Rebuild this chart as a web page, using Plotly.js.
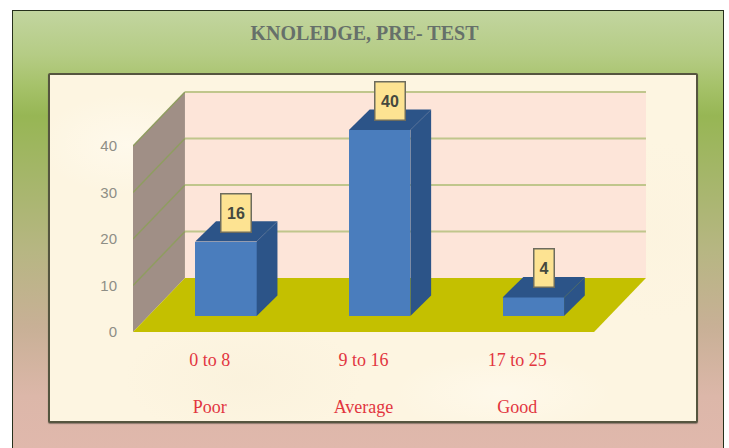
<!DOCTYPE html>
<html>
<head>
<meta charset="utf-8">
<script src="https://cdn.plot.ly/plotly-3.0.1.min.js"></script>
<style>
html,body{margin:0;padding:0;background:#fff;width:729px;height:448px;overflow:hidden}
#frame{position:absolute;left:12px;top:10px;width:712px;height:440px;border:1.5px solid #26301c;box-sizing:border-box;
background:linear-gradient(180deg,#c2d59f 0%,#b5cc85 10%,#a6c26a 17%,#97b654 24%,#a5b66a 38%,#b7b683 55%,#c8b096 72%,#dcb7a9 88%,#e0b8ac 100%)}
#panel{position:absolute;left:48px;top:73px;width:650px;height:350px;box-sizing:border-box;border:2.5px solid #55553f;border-radius:2px;
box-shadow:0 1px 1px rgba(60,60,50,.5);
background:
radial-gradient(ellipse 90px 50px at 12% 20%,rgba(255,250,238,.8),transparent),
radial-gradient(ellipse 120px 60px at 30% 88%,rgba(249,240,218,.6),transparent),
radial-gradient(ellipse 80px 90px at 94% 45%,rgba(252,243,222,.7),transparent),
radial-gradient(ellipse 110px 40px at 70% 92%,rgba(255,250,238,.7),transparent),
#fdf5e1}
#chart{position:absolute;left:0;top:0;width:729px;height:448px}
</style>
</head>
<body>
<div id="frame"></div>
<div id="panel"></div>
<div id="chart"></div>
<script>
const scoreRanges = ["0 to 8", "9 to 16", "17 to 25"];
const gradeNames = ["Poor", "Average", "Good"];
const students = [16, 40, 4];
const axisTicks = [0, 10, 20, 30, 40];
const chartTitle = "KNOLEDGE, PRE- TEST";

// Oblique 3-D projection, expressed in axis units
const wallDX = 0.338, wallDY = 11.6;      // depth of the whole box
const barDX = 0.105, barDY = 3.44;        // inset of the bars' front plane
const depthDX = 0.135, depthDY = 4.4;     // depth of a bar
const barWidth = 0.4;
const xMin = -0.5, xMax = 3.17, xFront = 2.5, yMax = 55.48, yTop = 40;

function poly(pts){ return "M" + pts.map(p => p[0] + "," + p[1]).join("L") + "Z"; }
function shape(pts, fill){
  return {type:"path", xref:"x", yref:"y", layer:"below", path:poly(pts), fillcolor:fill, line:{width:0}};
}
const shapes = [
  shape([[xMin+wallDX,wallDY],[xFront+wallDX,wallDY],[xFront+wallDX,yTop+wallDY],[xMin+wallDX,yTop+wallDY]], "#fde5d9"),
  shape([[xMin,0],[xMin+wallDX,wallDY],[xMin+wallDX,yTop+wallDY],[xMin,yTop]], "#a08f86"),
  shape([[xMin,0],[xFront,0],[xFront+wallDX,wallDY],[xMin+wallDX,wallDY]], "#c4c000")
];
axisTicks.filter(t => t > 0).forEach(t => {
  shapes.push({type:"line", xref:"x", yref:"y", layer:"below", x0:xMin, y0:t, x1:xMin+wallDX, y1:t+wallDY, line:{color:"#8f9d60", width:1.5}});
  shapes.push({type:"line", xref:"x", yref:"y", layer:"below", x0:xMin+wallDX, y0:t+wallDY, x1:xFront+wallDX, y1:t+wallDY, line:{color:"#c0c68c", width:2}});
});

const idx = students.map((_, i) => i);
const traces = [{
  type:"bar", x:idx.map(i => i + barDX), y:students, base:students.map(() => barDY), width:barWidth,
  marker:{color:"#4a7dbd", line:{width:0}}, hoverinfo:"skip", showlegend:false
}];
students.forEach((v, i) => {
  const l = i + barDX - barWidth/2, r = i + barDX + barWidth/2, b = barDY, t = barDY + v;
  const side = [[r,b],[r+depthDX,b+depthDY],[r+depthDX,t+depthDY],[r,t],[r,b]];
  const top  = [[l,t],[r,t],[r+depthDX,t+depthDY],[l+depthDX,t+depthDY],[l,t]];
  [side, top].forEach(p => traces.push({
    type:"scatter", mode:"lines", x:p.map(q => q[0]), y:p.map(q => q[1]),
    fill:"toself", fillcolor:"#2c5488", line:{width:0, color:"#2c5488"}, hoverinfo:"skip", showlegend:false
  }));
});

const annotations = students.map((v, i) => ({
  x:i + 0.172, y:v + barDY, xref:"x", yref:"y", xanchor:"center", yanchor:"bottom", yshift:9,
  text:"<b>" + v + "</b>", showarrow:false, width:String(v).length > 1 ? 29 : 19, height:37, align:"center", valign:"middle",
  bgcolor:"#fde392", bordercolor:"#6d6c5e", borderwidth:1.5, borderpad:0,
  font:{family:"Liberation Sans, sans-serif", size:16, color:"#45483f"}
}));

const layout = {
  width:729, height:448,
  paper_bgcolor:"rgba(0,0,0,0)", plot_bgcolor:"rgba(0,0,0,0)",
  margin:{l:133, r:32, t:74, b:116, pad:0},
  showlegend:false, hovermode:false, bargap:0,
  title:{text:"<b>"+chartTitle+"</b>", xref:"container", yref:"container", x:0.5, xanchor:"center", y:0.926, yanchor:"middle",
    font:{family:"Liberation Serif, serif", size:20, color:"#66706a"}},
  xaxis:{range:[xMin,xMax], fixedrange:true, tickmode:"array", tickvals:idx,
    ticktext:idx.map(i => scoreRanges[i] + "<br> <br>" + gradeNames[i]),
    ticks:"", ticklabelstandoff:15, showgrid:false, zeroline:false, showline:false, automargin:false,
    tickangle:0, tickfont:{family:"Liberation Serif, serif", size:18, color:"#e2363f"}},
  yaxis:{range:[0,yMax], fixedrange:true, tickmode:"array", tickvals:axisTicks, ticktext:axisTicks.map(String),
    ticks:"", ticklabelstandoff:15, showgrid:false, zeroline:false, showline:false, automargin:false,
    tickfont:{family:"Liberation Sans, sans-serif", size:15, color:"#8e8e86"}},
  shapes, annotations
};
Plotly.newPlot("chart", traces, layout, {displayModeBar:false, staticPlot:true});
</script>
</body>
</html>
